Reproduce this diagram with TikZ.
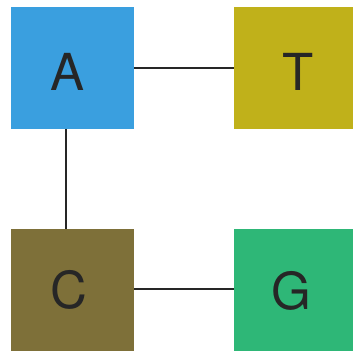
\documentclass[tikz,border=0pt]{standalone}
\usepackage{fontspec}
\setmainfont{TeX Gyre Heros}
\definecolor{cA}{HTML}{3A9FDF}
\definecolor{cT}{HTML}{C0B11A}
\definecolor{cC}{HTML}{7E7039}
\definecolor{cG}{HTML}{2EB777}
\begin{document}
\begin{tikzpicture}[x=1pt,y=-1pt,
  base/.style={minimum width=123pt,minimum height=122pt,inner sep=0pt,outer sep=0pt},
  lbl/.style={font=\fontsize{51}{51}\selectfont,text=black!85,inner sep=0pt},
  link/.style={line width=2.8pt,draw=black!85}]
\useasboundingbox (0,0) rectangle (353,352);
\node[base,fill=cA,label={[lbl,xshift=-5pt,yshift=-4pt]center:A}] (A) at (72.5,68) {};
\node[base,fill=cT,label={[lbl,xshift=2.5pt,yshift=-4pt]center:T}] (T) at (295.5,68) {};
\node[base,fill=cC,label={[lbl,xshift=-4pt,yshift=0pt]center:C}] (C) at (72.5,290) {};
\node[base,fill=cG,label={[lbl,xshift=-4pt,yshift=-1pt]center:G}] (G) at (295.5,290) {};
\draw[link] (A.south -| 66,0) -- (C.north -| 66,0);
\draw[link] (A) -- (T);
\draw[link,line width=2.3pt] (C.east |- 0,289) -- (G.west |- 0,289);
\end{tikzpicture}
\end{document}
